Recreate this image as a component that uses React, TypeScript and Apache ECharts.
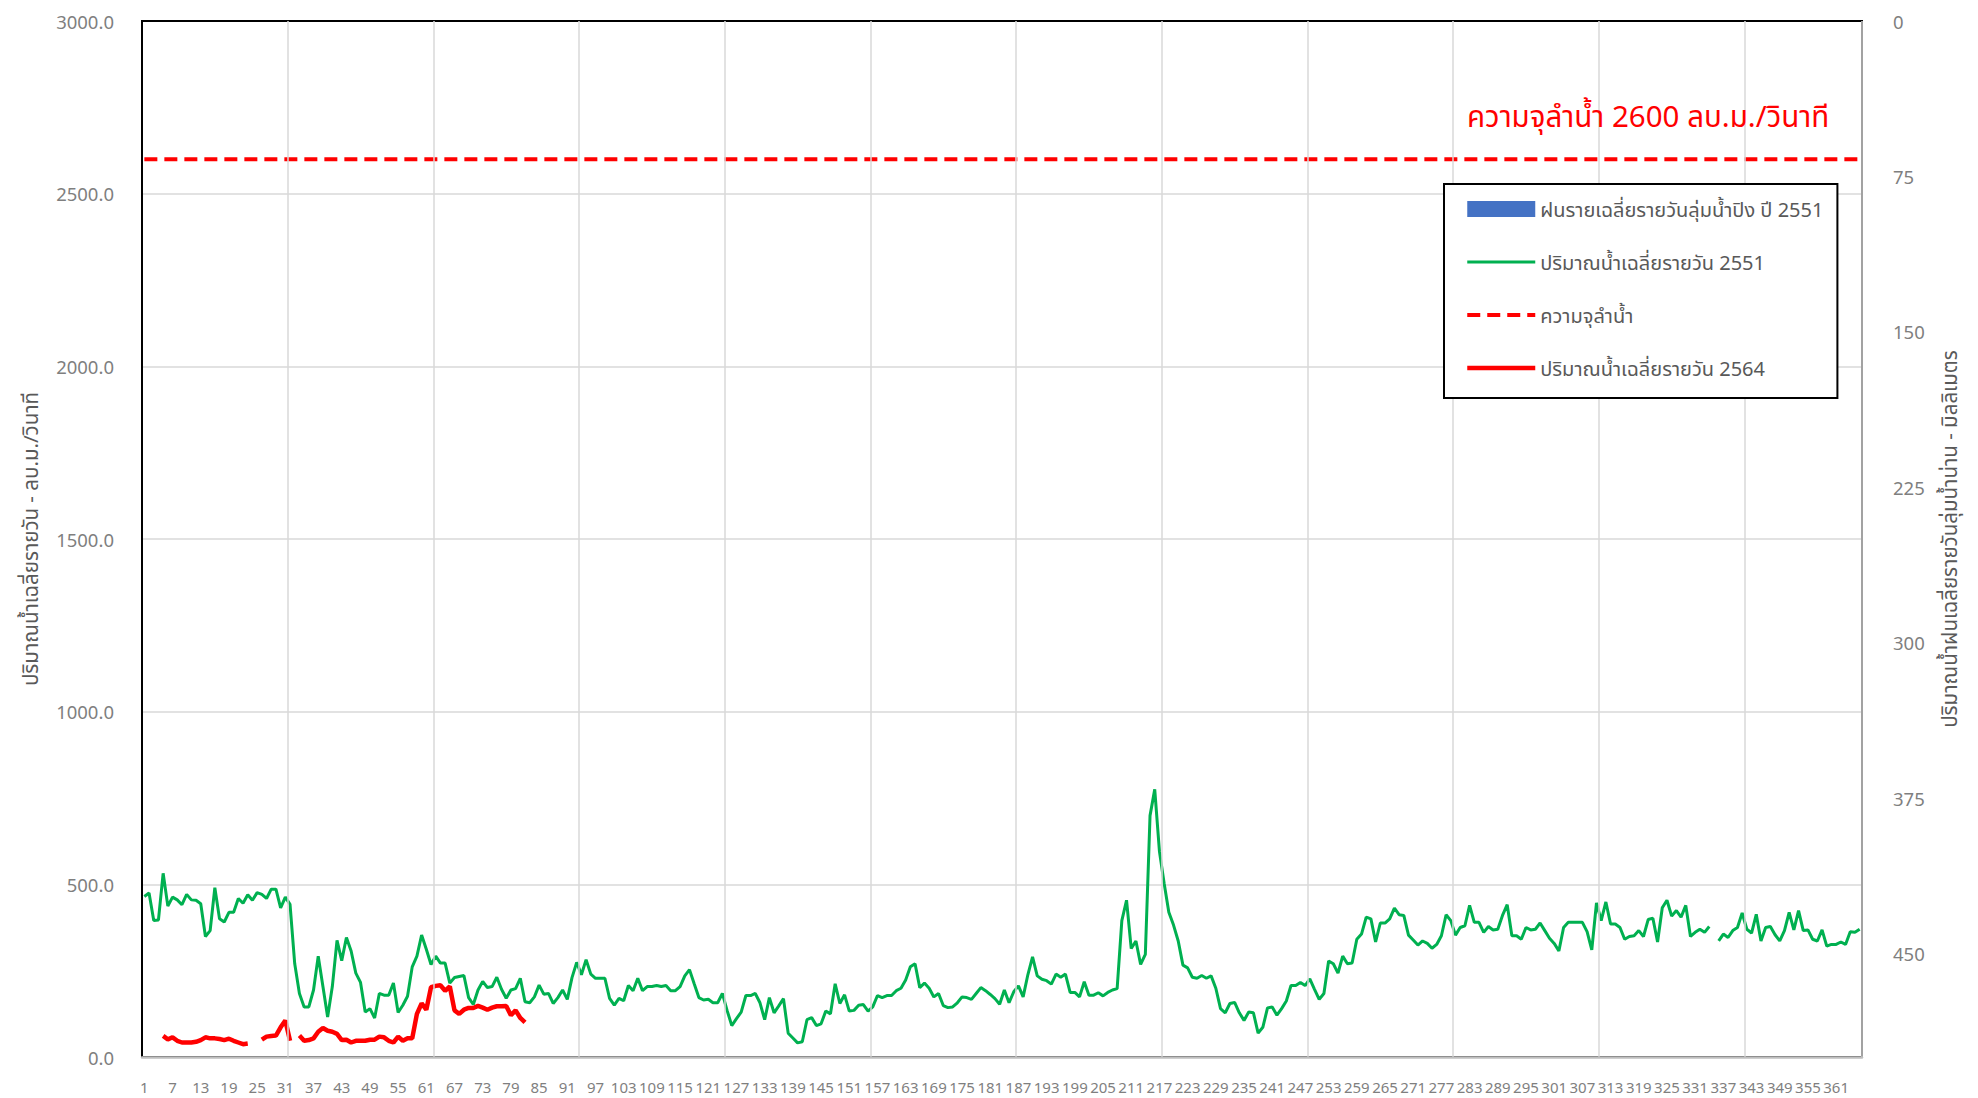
import React, { useEffect, useRef } from "react";
import * as echarts from "echarts";

const days: string[] = Array.from({ length: 366 }, (_, i) => String(i + 1));

const leftTicks = [0, 500, 1000, 1500, 2000, 2500, 3000];
const rightTicks = [0, 75, 150, 225, 300, 375, 450];

const CAPACITY = 2600;

// ฝนรายเฉลี่ยรายวันลุ่มน้ำปิง ปี 2551 (no visible bars in the picture)
const rain2551: (number | null)[] = [];

// ปริมาณน้ำเฉลี่ยรายวัน 2551
const flow2551: (number | null)[] = [
  465, 475, 395, 397, 532, 437, 463, 455, 441, 471,
  455, 454, 444, 349, 366, 490, 400, 391, 419, 419,
  459, 445, 470, 454, 476, 471, 459, 486, 486, 432,
  463, 442, 270, 184, 145, 145, 194, 292, 204, 116,
  204, 338, 279, 346, 307, 243, 216, 130, 140, 113,
  184, 179, 179, 214, 129, 150, 176, 261, 292, 353,
  312, 268, 292, 272, 272, 214, 230, 233, 236, 172,
  152, 194, 219, 201, 204, 231, 196, 170, 194, 198,
  228, 160, 157, 174, 208, 182, 184, 155, 172, 194,
  167, 230, 274, 238, 282, 240, 228, 228, 228, 170,
  150, 170, 163, 207, 192, 228, 192, 204, 204, 207,
  204, 207, 192, 192, 204, 235, 253, 212, 172, 165,
  167, 157, 157, 184, 135, 91, 111, 130, 178, 178,
  184, 157, 108, 172, 128, 148, 169, 69, 55, 41,
  44, 108, 114, 91, 96, 133, 125, 212, 155, 180,
  133, 135, 150, 152, 133, 145, 178, 172, 178, 178,
  192, 199, 223, 261, 270, 201, 214, 199, 174, 184,
  149, 143, 145, 157, 174, 172, 167, 184, 201, 192,
  181, 169, 153, 194, 157, 189, 206, 174, 238, 290,
  235, 225, 221, 211, 240, 231, 240, 187, 187, 174,
  218, 179, 179, 186, 177, 187, 194, 198, 395, 454,
  314, 336, 268, 297, 699, 775, 596, 503, 419, 382,
  336, 266, 258, 231, 228, 236, 228, 235, 199, 140,
  128, 155, 158, 128, 106, 130, 128, 69, 86, 142,
  145, 121, 140, 162, 207, 207, 216, 207, 226, 196,
  167, 184, 278, 270, 243, 292, 270, 272, 341, 356,
  405, 400, 333, 388, 388, 400, 431, 412, 410, 353,
  339, 324, 336, 329, 315, 326, 351, 412, 395, 353,
  375, 380, 439, 390, 390, 361, 378, 368, 370, 410,
  441, 351, 351, 341, 375, 368, 370, 388, 366, 344,
  329, 307, 375, 390, 390, 390, 390, 363, 310, 446,
  395, 449, 385, 385, 375, 341, 349, 351, 366, 349,
  398, 402, 333, 432, 454, 408, 424, 405, 439, 349,
  361, 370, 361, 378, null, 336, 356, 346, 366, 375,
  417, 370, 359, 413, 336, 375, 378, 354, 336, 366,
  419, 368, 424, 366, 368, 341, 336, 368, 321, 326,
  326, 333, 326, 363, 361, 370,
];

// ปริมาณน้ำเฉลี่ยรายวัน 2564
const flow2564: (number | null)[] = [
  null, null, null, null,
  61, 51, 57, 47, 42, 42, 42, 44, 49, 57, 54, 54, 52, 49, 53, 47, 42, 37, 39,
  null, null,
  50, 59, 61, 62, 86, 106, 47,
  null,
  62, 47, 49, 54, 73, 84, 76, 73, 67, 49, 50, 42, 47, 47, 47, 50, 50, 59, 57,
  47, 42, 59, 47, 54, 54, 125, 155, 137, 202, 206, 208, 192, 204, 135, 125,
  137, 142, 142, 148, 143, 137, 143, 147, 147, 148, 121, 135, 113, 100,
];

const FONT = "'Noto Sans', 'Noto Sans Thai', Tahoma, sans-serif";

const NAME_RAIN = "ฝนรายเฉลี่ยรายวันลุ่มน้ำปิง ปี 2551";
const NAME_2551 = "ปริมาณน้ำเฉลี่ยรายวัน 2551";
const NAME_CAP = "ความจุลำน้ำ";
const NAME_2564 = "ปริมาณน้ำเฉลี่ยรายวัน 2564";

export default function App() {
  const ref = useRef<HTMLDivElement>(null);
  useEffect(() => {
    if (!ref.current) return;
    const chart = echarts.init(ref.current, null, { renderer: "svg" });
    const capacityData = [
      [days[0], CAPACITY],
      [days[days.length - 1], CAPACITY],
    ];
    chart.setOption({
      animation: false,
      backgroundColor: "#ffffff",
      textStyle: { fontFamily: FONT },
      grid: {
        left: 142,
        right: 116,
        top: 21,
        bottom: 41,
        show: true,
        z: 10,
        borderColor: "#000000",
        borderWidth: 2,
        backgroundColor: "transparent",
      },
      legend: {
        orient: "vertical",
        left: 1444,
        top: 184,
        padding: [15, 14, 20, 21],
        itemGap: 33,
        itemWidth: 68,
        itemHeight: 16,
        backgroundColor: "#ffffff",
        borderColor: "#000000",
        borderWidth: 2,
        borderRadius: 0,
        z: 20,
        textStyle: { fontSize: 20, color: "#595959", fontFamily: FONT, lineHeight: 20 },
        data: [
          { name: NAME_RAIN, icon: "rect" },
          {
            name: NAME_2551,
            itemStyle: { opacity: 0 },
            lineStyle: { width: 3, color: "#00b050" },
          },
          {
            name: NAME_CAP,
            itemStyle: { opacity: 0 },
            lineStyle: { width: 4, color: "#ff0000", type: [13, 7] },
          },
          {
            name: NAME_2564,
            itemStyle: { opacity: 0 },
            lineStyle: { width: 4.5, color: "#ff0000" },
          },
        ],
      },
      graphic: [
        {
          type: "text",
          x: 1467,
          y: 115,
          z: 100,
          style: {
            text: "ความจุลำน้ำ 2600 ลบ.ม./วินาที",
            fill: "#ff0000",
            fontSize: 29.5,
            fontFamily: FONT,
            align: "left",
            verticalAlign: "middle",
          },
        },
      ],
      xAxis: {
        type: "category",
        data: days,
        boundaryGap: true,
        z: 11,
        axisLine: { show: true, lineStyle: { color: "#bfbfbf", width: 2.5 } },
        axisTick: { show: false },
        axisLabel: {
          interval: 5,
          margin: 22,
          fontSize: 15,
          color: "#7f7f7f",
          fontFamily: FONT,
        },
        splitLine: {
          show: true,
          interval: (index: number) => index % 31 === 0 && index !== 0,
          lineStyle: { color: "#d9d9d9", width: 1.5 },
        },
      },
      yAxis: [
        {
          type: "value",
          min: leftTicks[0],
          max: leftTicks[leftTicks.length - 1],
          interval: leftTicks[1] - leftTicks[0],
          name: "ปริมาณน้ำเฉลี่ยรายวัน - ลบ.ม./วินาที",
          nameLocation: "middle",
          nameGap: 102,
          nameRotate: 90,
          nameTextStyle: { fontSize: 20.5, color: "#595959", fontFamily: FONT },
          axisLine: { show: false },
          axisTick: { show: false },
          axisLabel: {
            margin: 28,
            fontSize: 18.5,
            color: "#7f7f7f",
            fontFamily: FONT,
            formatter: (v: number) => v.toFixed(1),
          },
          splitLine: { show: true, lineStyle: { color: "#d9d9d9", width: 1.5 } },
        },
        {
          type: "value",
          inverse: true,
          min: 0,
          max: 500,
          interval: rightTicks[1] - rightTicks[0],
          name: "ปริมาณน้ำฝนเฉลี่ยรายวันลุ่มน้ำน่าน - มิลลิเมตร",
          nameLocation: "middle",
          nameGap: 76,
          nameRotate: 90,
          nameTextStyle: { fontSize: 20.5, color: "#595959", fontFamily: FONT },
          axisLine: { show: false },
          axisTick: { show: false },
          axisLabel: {
            margin: 31,
            fontSize: 18.5,
            color: "#7f7f7f",
            fontFamily: FONT,
            showMaxLabel: false,
            formatter: (v: number) => (v % 75 === 0 ? String(v) : ""),
          },
          splitLine: { show: false },
        },
      ],
      series: [
        {
          name: NAME_RAIN,
          type: "bar",
          yAxisIndex: 1,
          data: rain2551,
          itemStyle: { color: "#4472c4" },
        },
        {
          name: NAME_2551,
          type: "line",
          yAxisIndex: 0,
          data: flow2551,
          symbol: "none",
          connectNulls: false,
          lineStyle: { color: "#00b050", width: 3 },
          itemStyle: { color: "#00b050" },
          z: 3,
        },
        {
          name: NAME_CAP,
          type: "line",
          yAxisIndex: 0,
          data: capacityData,
          symbol: "none",
          lineStyle: { color: "#ff0000", width: 4, type: [13, 7] },
          itemStyle: { color: "#ff0000" },
          z: 4,
        },
        {
          name: NAME_2564,
          type: "line",
          yAxisIndex: 0,
          data: flow2564,
          symbol: "none",
          connectNulls: false,
          lineStyle: { color: "#ff0000", width: 4.5 },
          itemStyle: { color: "#ff0000" },
          z: 5,
        },
      ],
    });
    return () => chart.dispose();
  }, []);
  return (
    <div
      ref={ref}
      style={{ position: "absolute", left: 0, top: 0, width: 1978, height: 1098 }}
    />
  );
}
